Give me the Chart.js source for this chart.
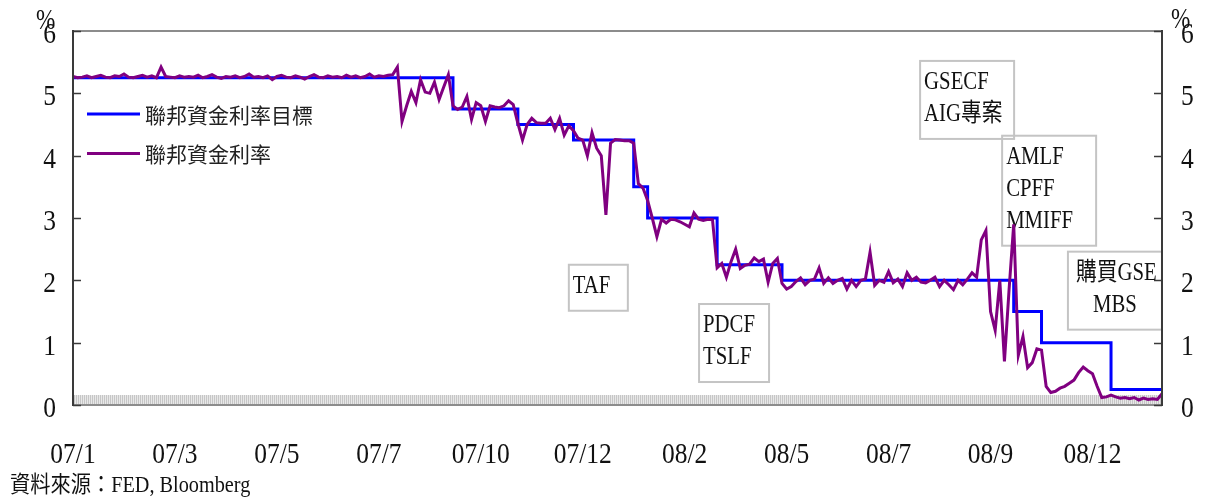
<!DOCTYPE html>
<html lang="zh-Hant">
<head>
  <meta charset="UTF-8" />
  <title>聯邦資金利率</title>
  <script src="https://cdn.jsdelivr.net/npm/chart.js"></script>
  <style>
    * {
      margin: 0;
      padding: 0;
      box-sizing: border-box;
    }

    body {
      background: #ffffff;
      width: 1207px;
      height: 497px;
      overflow: hidden;
    }

    canvas {
      display: block;
    }
  </style>
</head>
<body>

  <canvas id="fedChart" width="1207" height="497"></canvas>

  <script>
    // Business-day index 0..235, Jan 2007 to Dec 2008
    const tickIndex = [0, 22, 44, 66, 88, 110, 132, 154, 176, 198, 220];
    const tickLabels = ['07/1', '07/3', '07/5', '07/7', '07/10', '07/12', '08/2', '08/5', '08/7', '08/9', '08/12'];
    const rateTicks = [0, 1, 2, 3, 4, 5, 6];

    // Target rate: index where each new target starts
    const targetStart = [0, 82, 96, 108, 121, 124, 139, 153, 203, 209, 224, 235];
    const targetRate = [5.25, 4.75, 4.5, 4.25, 3.5, 3.0, 2.25, 2.0, 1.5, 1.0, 0.25, 0.25];

    // Effective fed funds rate
    const effectiveRate = [
      5.27, 5.25, 5.26, 5.28, 5.25, 5.27, 5.29, 5.26, 5.25, 5.28,
      5.27, 5.31, 5.26, 5.25, 5.27, 5.29, 5.26, 5.28, 5.25, 5.42,
      5.27, 5.26, 5.25, 5.28, 5.26, 5.27, 5.26, 5.29, 5.25, 5.27,
      5.30, 5.26, 5.24, 5.27, 5.26, 5.28, 5.25, 5.27, 5.31, 5.26,
      5.27, 5.25, 5.28, 5.22, 5.27, 5.29, 5.26, 5.25, 5.28, 5.26,
      5.23, 5.27, 5.30, 5.26, 5.25, 5.28, 5.26, 5.27, 5.25, 5.29,
      5.26, 5.28, 5.25, 5.27, 5.31, 5.26, 5.28, 5.27, 5.29, 5.30,
      5.42, 4.55, 4.80, 5.03, 4.85, 5.22, 5.02, 5.00, 5.18, 4.90,
      5.10, 5.30, 4.80, 4.74, 4.78, 4.95, 4.58, 4.85, 4.80, 4.55,
      4.80, 4.78, 4.77, 4.80, 4.88, 4.82, 4.52, 4.25, 4.50, 4.60,
      4.53, 4.52, 4.52, 4.60, 4.42, 4.60, 4.33, 4.48, 4.40, 4.28,
      4.25, 4.00, 4.37, 4.12, 4.00, 3.05, 4.20, 4.26, 4.25, 4.24,
      4.24, 4.20, 3.55, 3.48, 3.28, 3.00, 2.70, 2.98, 2.92, 2.98,
      2.97, 2.94, 2.90, 2.86, 3.08, 2.98, 2.96, 2.98, 2.97, 2.20,
      2.27, 2.05, 2.30, 2.50, 2.19, 2.24, 2.26, 2.36, 2.30, 2.34,
      1.97, 2.27, 2.35, 1.95, 1.86, 1.90, 1.98, 2.04, 1.93, 2.00,
      2.02, 2.20, 1.95, 2.04, 1.95, 2.00, 2.03, 1.86, 2.00, 1.90,
      2.00, 2.02, 2.45, 1.92, 2.00, 1.97, 2.14, 1.96, 2.02, 1.90,
      2.12, 2.00, 2.05, 1.97, 1.96, 2.00, 2.05, 1.90, 2.00, 1.93,
      1.85, 2.00, 1.93, 2.02, 2.12, 2.05, 2.65, 2.80, 1.50, 1.20,
      2.00, 0.70, 1.85, 2.90, 0.80, 1.10, 0.60, 0.68, 0.90, 0.88,
      0.30, 0.20, 0.22, 0.27, 0.30, 0.35, 0.40, 0.52, 0.61, 0.55,
      0.50, 0.30, 0.12, 0.13, 0.16, 0.13, 0.11, 0.12, 0.10, 0.12,
      0.08, 0.11, 0.09, 0.10, 0.09, 0.18
    ];

    // Facility notes: anchored at (day index, rate) for the box's top-left corner
    const noteLines = [['TAF'], ['PDCF', 'TSLF'], ['GSECF', 'AIG專案'], ['AMLF', 'CPFF', 'MMIFF'], ['購買GSE、', 'MBS']];
    const noteAt = [[107, 2.25], [135.1, 1.62], [182.8, 5.52], [200.5, 4.32], [214.7, 2.46]];

    const legendNames = ['聯邦資金利率目標', '聯邦資金利率'];
    const sourceNote = '資料來源：FED, Bloomberg';

    const SERIF = "'Liberation Serif', 'Noto Sans CJK TC', serif";
    const CJK = "'Noto Sans CJK TC', 'Liberation Serif', sans-serif";
    const BLUE = '#0000ff';
    const PURPLE = '#800080';

    // serif text squeezed horizontally, like a narrow Ming face
    function narrowText(ctx, text, x, y, size, align, squeeze, family) {
      ctx.save();
      ctx.font = size + 'px ' + (family || SERIF);
      const w = ctx.measureText(text).width * squeeze;
      let left = x;
      if (align === 'center') left = x - w / 2;
      else if (align === 'right') left = x - w;
      ctx.translate(left, y);
      ctx.scale(squeeze, 1);
      ctx.textAlign = 'left';
      ctx.textBaseline = 'alphabetic';
      ctx.fillStyle = '#111';
      ctx.fillText(text, 0, 0);
      ctx.restore();
    }

    function line(ctx, x1, y1, x2, y2) {
      ctx.beginPath();
      ctx.moveTo(x1, y1);
      ctx.lineTo(x2, y2);
      ctx.stroke();
    }

    const decorations = {
      id: 'decorations',
      beforeDatasetsDraw(chart) {
        const { ctx, chartArea: a, scales: { x, y } } = chart;
        ctx.save();

        // hatched strip along the zero line
        const top = y.getPixelForValue(0.16);
        ctx.fillStyle = '#e8e8e8';
        ctx.fillRect(a.left, top, a.right - a.left, a.bottom - top);
        ctx.strokeStyle = '#c6c6c6';
        ctx.lineWidth = 1;
        for (let px = a.left + 1.5; px < a.right; px += 2) {
          line(ctx, px, top, px, a.bottom);
        }

        // facility boxes
        noteLines.forEach((lines, k) => {
          const bx = x.getPixelForValue(noteAt[k][0]);
          const by = y.getPixelForValue(noteAt[k][1]);
          const bh = 14 + lines.length * 32;
          const w = k === 0 ? 59 : (k === 1 ? 70 : 94);
          ctx.save();
          ctx.beginPath();
          ctx.rect(bx, by, w, bh);
          ctx.clip();
          lines.forEach((t, j) => {
            const centre = k === 4 && j === 1;
            const pad = k === 4 ? 8 : 4;
            narrowText(ctx, t, centre ? bx + w / 2 : bx + pad, by + 28 + j * 32, 25, centre ? 'center' : 'left', 0.83);
          });
          ctx.restore();
          ctx.strokeStyle = '#c4c4c4';
          ctx.lineWidth = 2;
          ctx.strokeRect(bx, by, w, bh);
        });

        ctx.restore();
      },
      afterDatasetsDraw(chart) {
        const { ctx, chartArea: a, scales: { x, y } } = chart;
        ctx.save();

        // frame
        ctx.lineWidth = 2;
        ctx.strokeStyle = '#8c8c8c';
        line(ctx, a.left, a.top, a.right, a.top);
        line(ctx, a.left, a.bottom, a.right, a.bottom);
        ctx.strokeStyle = '#3a3a3a';
        line(ctx, a.left, a.top - 1, a.left, a.bottom + 1);
        line(ctx, a.right, a.top - 1, a.right, a.bottom + 1);

        // rate ticks on both sides, pointing inward
        ctx.lineWidth = 1.5;
        rateTicks.forEach(v => {
          const py = Math.round(y.getPixelForValue(v)) + 0.5;
          line(ctx, a.left, py, a.left + 8, py);
          line(ctx, a.right - 8, py, a.right, py);
          narrowText(ctx, String(v), a.left - 17, py + 11, 30, 'right', 0.85);
          narrowText(ctx, String(v), a.right + 19, py + 11, 30, 'left', 0.85);
        });
        narrowText(ctx, '%', 36, 29, 29, 'left', 0.8);
        narrowText(ctx, '%', 1171, 28, 29, 'left', 0.8);

        // month labels under the axis
        tickIndex.forEach((i, k) => {
          narrowText(ctx, tickLabels[k], x.getPixelForValue(i), 463, 30, 'center', 0.85);
        });

        // legend
        const swatches = [BLUE, PURPLE];
        legendNames.forEach((name, k) => {
          const ly = 114 + k * 39.5;
          ctx.strokeStyle = swatches[k];
          ctx.lineWidth = 3;
          line(ctx, 87, ly, 140, ly);
          ctx.font = '21px ' + CJK;
          ctx.fillStyle = '#222';
          ctx.textBaseline = 'middle';
          ctx.textAlign = 'left';
          ctx.fillText(name, 145, ly + 1);
        });

        // source line
        narrowText(ctx, sourceNote, 10, 492, 23, 'left', 0.88);

        ctx.restore();
      }
    };

    const ctx = document.getElementById('fedChart').getContext('2d');
    const chart = new Chart(ctx, {
      type: 'line',
      data: {
        datasets: [
          {
            label: legendNames[1],
            data: effectiveRate.map((v, i) => ({ x: i, y: v })),
            borderColor: PURPLE,
            borderWidth: 3,
            pointRadius: 0,
            tension: 0,
            order: 0
          },
          {
            label: legendNames[0],
            data: targetStart.map((i, k) => ({ x: i, y: targetRate[k] })),
            borderColor: BLUE,
            borderWidth: 3,
            pointRadius: 0,
            stepped: 'before',
            order: 1
          }
        ]
      },
      options: {
        responsive: false,
        animation: false,
        devicePixelRatio: 1,
        layout: {
          padding: { left: 73, right: 45, top: 31, bottom: 92 }
        },
        plugins: {
          legend: { display: false },
          tooltip: { enabled: false }
        },
        scales: {
          x: { type: 'linear', min: 0, max: 235, display: false },
          y: { min: 0, max: 6, display: false }
        }
      },
      plugins: [decorations]
    });
  </script>
</body>
</html>
